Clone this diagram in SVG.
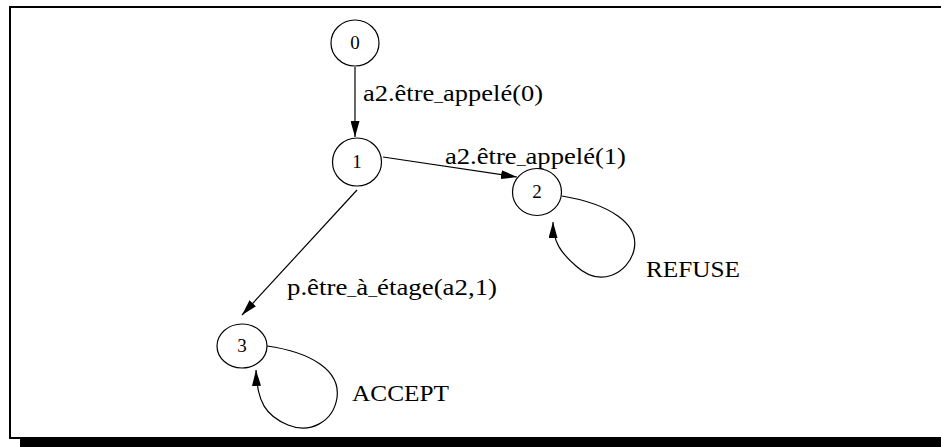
<svg xmlns="http://www.w3.org/2000/svg" width="941" height="447" viewBox="0 0 941 447">
  <style>
    .node ellipse { fill: #fff; stroke: #000; stroke-width: 1.2; }
    .node text { font-family: "Liberation Serif", "Times New Roman", serif; font-size: 19px; text-anchor: middle; fill: #000; }
    .edge { fill: none; stroke: #000; stroke-width: 1.2; marker-end: url(#arrow); }
    .lbl { font-family: "Liberation Serif", "Times New Roman", serif; font-size: 22.5px; fill: #000; }
    .us { font-size: 15px; }
  </style>
  <defs>
    <marker id="arrow" viewBox="0 0 16 9" refX="16" refY="4.5" markerWidth="16" markerHeight="9" markerUnits="userSpaceOnUse" orient="auto">
      <path d="M0,0 L16,4.5 L0,9 z" fill="#000"/>
    </marker>
  </defs>

  <rect width="941" height="447" fill="#fff"/>
  <!-- frame and its drop shadow -->
  <g id="frame">
    <rect x="10" y="7" width="960" height="431" fill="none" stroke="#000" stroke-width="2"/>
    <rect x="20" y="438" width="921" height="9" fill="#000"/>
  </g>

  <g id="connectors">
    <path class="edge" d="M355,67 L355,137"/>
    <path class="edge" d="M383,157 L517,177"/>
    <path class="edge" d="M357,190 L242,315"/>
    <path class="edge" d="M562,196 C610,204 640,224 634,250 C628,274 600,288 576,266 C561,253 553,242 553,222"/>
    <path class="edge" d="M267,346 C310,352 341,370 337,398 C333,422 310,434 288,425 C266,416 257,402 256,370"/>
  </g>

  <g id="labels">
    <text class="lbl" x="363" y="101" textLength="180" lengthAdjust="spacingAndGlyphs">a2.être<tspan class="us">_</tspan>appelé(0)</text>
    <text class="lbl" x="445" y="164" textLength="181" lengthAdjust="spacingAndGlyphs">a2.être<tspan class="us">_</tspan>appelé(1)</text>
    <text class="lbl" x="287" y="295" textLength="210" lengthAdjust="spacingAndGlyphs">p.être<tspan class="us">_</tspan>à<tspan class="us">_</tspan>étage(a2,1)</text>
    <text class="lbl" x="646" y="277" textLength="94" lengthAdjust="spacingAndGlyphs">REFUSE</text>
    <text class="lbl" x="352" y="401" textLength="97" lengthAdjust="spacingAndGlyphs">ACCEPT</text>
  </g>

  <g id="node0" class="node">
    <ellipse cx="355" cy="43" rx="24" ry="23"/>
    <text x="355" y="49">0</text>
  </g>
  <g id="node1" class="node">
    <ellipse cx="357" cy="162" rx="24.5" ry="24"/>
    <text x="357" y="168">1</text>
  </g>
  <g id="node2" class="node">
    <ellipse cx="537" cy="192" rx="24.5" ry="23.5"/>
    <text x="537" y="198">2</text>
  </g>
  <g id="node3" class="node">
    <ellipse cx="242" cy="346" rx="25" ry="22"/>
    <text x="242" y="352">3</text>
  </g>
</svg>
